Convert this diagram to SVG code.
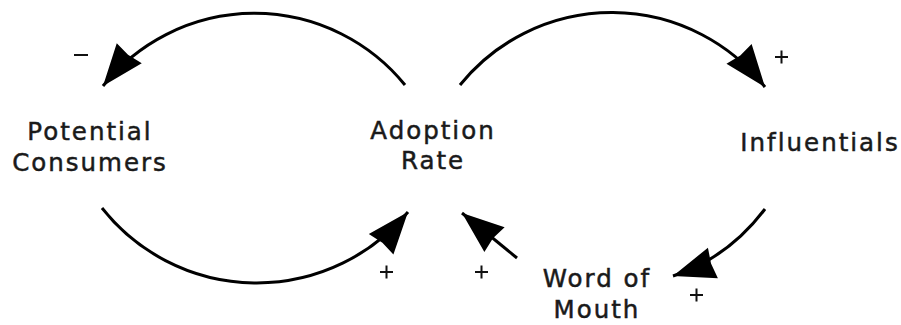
<svg xmlns="http://www.w3.org/2000/svg" width="901" height="325" viewBox="0 0 901 325">
  <style>
    .lbl { font-family: "DejaVu Sans", "Liberation Sans", sans-serif; font-size: 24.5px; fill: #1a1a1a; stroke: #1a1a1a; stroke-width: 0.5; text-anchor: middle; letter-spacing: 2px; }
    .sign { stroke: #111; stroke-width: 2; fill: none; }
    .link { stroke: #000; stroke-width: 3; fill: none; marker-end: url(#head); }
  </style>
  <defs>
    <marker id="head" markerUnits="userSpaceOnUse" viewBox="-44 -18 46 36" refX="0" refY="0" markerWidth="46" markerHeight="36" orient="auto">
      <path d="M0,0 L-42,-16 L-40,0 L-42,16 Z" fill="#000"/>
    </marker>
  </defs>
  <rect width="901" height="325" fill="#fff"/>
  <g id="connectors">
    <path class="link" d="M405,85 A194,194 0 0 0 103,86"/>
    <path class="link" d="M102,208 A197,197 0 0 0 408,212"/>
    <path class="link" d="M460,85 A195,195 0 0 1 765,87"/>
    <path class="link" d="M765,209 Q728,258 673,276"/>
    <path class="link" d="M517,258 L462,213"/>
    <path class="sign" d="M74,55 H88"/>
    <path class="sign" d="M380,272 H393 M386.5,265.5 V278.5"/>
    <path class="sign" d="M475,272 H488 M481.5,265.5 V278.5"/>
    <path class="sign" d="M775,57 H788 M781.5,50.5 V63.5"/>
    <path class="sign" d="M690,295 H703 M696.5,288.5 V301.5"/>
  </g>
  <g id="potential-consumers">
    <text class="lbl" x="90" y="140">Potential</text>
    <text class="lbl" x="90" y="171">Consumers</text>
  </g>
  <g id="adoption-rate">
    <text class="lbl" x="433" y="139">Adoption</text>
    <text class="lbl" x="433" y="169">Rate</text>
  </g>
  <g id="influentials">
    <text class="lbl" x="820" y="151">Influentials</text>
  </g>
  <g id="word-of-mouth">
    <text class="lbl" x="597" y="287">Word of</text>
    <text class="lbl" x="597" y="318">Mouth</text>
  </g>
</svg>
